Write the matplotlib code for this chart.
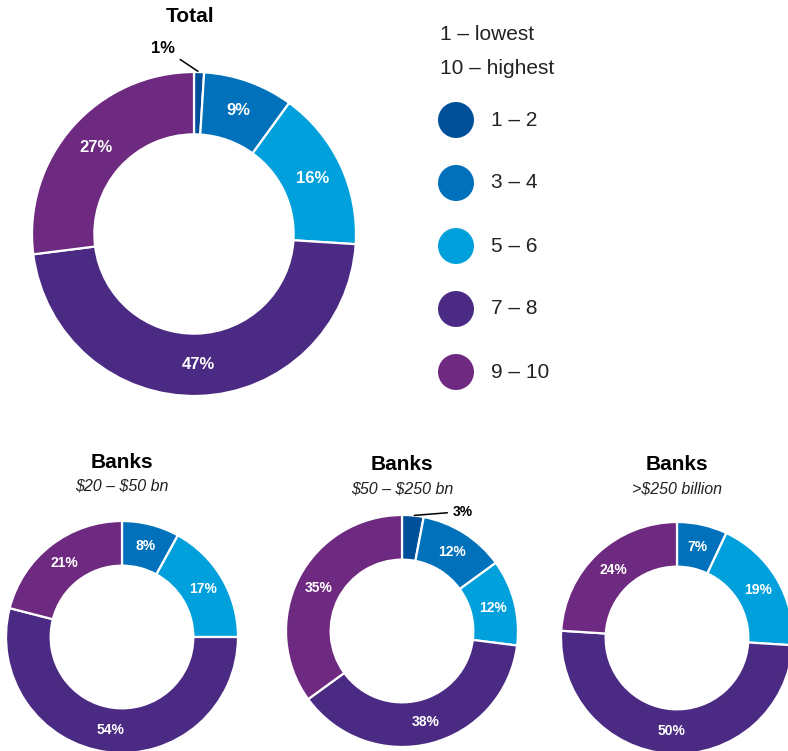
import numpy as np
import matplotlib
matplotlib.use("Agg")
import matplotlib.pyplot as plt
from matplotlib.patches import Circle

plt.rcParams["font.family"] = ["Liberation Sans", "DejaVu Sans"]
plt.rcParams["text.parse_math"] = False

############### Data ###############

score_bands = ["1 – 2", "3 – 4", "5 – 6", "7 – 8", "9 – 10"]
band_colors = ["#00509A", "#0071BA", "#00A0DC", "#4B2A84", "#6E2A80"]

total_share = [1, 9, 16, 47, 27]
banks_20_50 = [0, 8, 17, 54, 21]
banks_50_250 = [3, 12, 12, 38, 35]
banks_250_plus = [0, 7, 19, 50, 24]

chart_titles = ["Total", "Banks", "Banks", "Banks"]
chart_subtitles = ["", "$20 – $50 bn", "$50 – $250 bn", ">$250 billion"]
scale_notes = ["1 – lowest", "10 – highest"]

W, H = 788, 751
RING = 0.385


def py(y):
    # pixel row (from top) -> data y
    return H - y


def draw_donut(ax, values, cx, cy, r, label_size, small_offset=None):
    vals = [v for v in values if v > 0]
    cols = [c for v, c in zip(values, band_colors) if v > 0]
    wedges, _ = ax.pie(vals, colors=cols, startangle=90, counterclock=False,
                       radius=r, center=(cx, py(cy)),
                       wedgeprops=dict(width=r * RING, edgecolor="white",
                                       linewidth=1.6))
    for w, v in zip(wedges, vals):
        mid = np.deg2rad((w.theta1 + w.theta2) / 2)
        if v >= 5:
            rm = r * (1 - RING / 2)
            ax.text(cx + rm * np.cos(mid), py(cy) + rm * np.sin(mid), f"{v}%",
                    color="white", fontsize=label_size, fontweight="bold",
                    ha="center", va="center")
        elif small_offset is not None:
            xy = (cx + r * np.cos(mid), py(cy) + r * np.sin(mid))
            dx, dy, ha = small_offset
            ax.annotate(f"{v}%", xy=xy, xytext=(dx, dy),
                        textcoords="offset pixels", ha=ha, va="center",
                        fontsize=label_size, fontweight="bold", color="black",
                        arrowprops=dict(arrowstyle="-", color="black", lw=1.1,
                                        shrinkA=2, shrinkB=1))


fig = plt.figure(figsize=(W / 100, H / 100), dpi=100)
ax = fig.add_axes([0, 0, 1, 1])

##### Total donut
draw_donut(ax, total_share, 194, 234, 162, 12, small_offset=(-24, 24, "right"))
ax.text(190, py(17), chart_titles[0], fontsize=15, fontweight="bold",
        ha="center", va="center")

##### Bank size donuts
bottom = [(banks_20_50, 122, 637, 462, None),
          (banks_50_250, 402, 631, 465, (40, 4, "left")),
          (banks_250_plus, 677, 638, 465, None)]
for i, (vals, cx, cy, ty, off) in enumerate(bottom):
    draw_donut(ax, vals, cx, cy, 116, 10, small_offset=off)
    ax.text(cx, py(ty), chart_titles[i + 1], fontsize=15,
            fontweight="bold", ha="center", va="center")
    ax.text(cx, py(ty + 24), chart_subtitles[i + 1], fontsize=11.5,
            style="italic", ha="center", va="center", color="#222222")

##### Legend
ax.text(440, py(35), scale_notes[0], fontsize=15, ha="left", va="center",
        color="#222222")
ax.text(440, py(69), scale_notes[1], fontsize=15, ha="left", va="center",
        color="#222222")
for k, (lab, col) in enumerate(zip(score_bands, band_colors)):
    yk = 120 + k * 63
    ax.add_patch(Circle((456, py(yk)), 18, color=col, lw=0))
    ax.text(491, py(yk), lab, fontsize=15, ha="left", va="center",
            color="#222222")

ax.set_xlim(0, W)
ax.set_ylim(0, H)
ax.set_aspect("equal")
ax.axis("off")

fig.savefig("out.png", dpi=100)
